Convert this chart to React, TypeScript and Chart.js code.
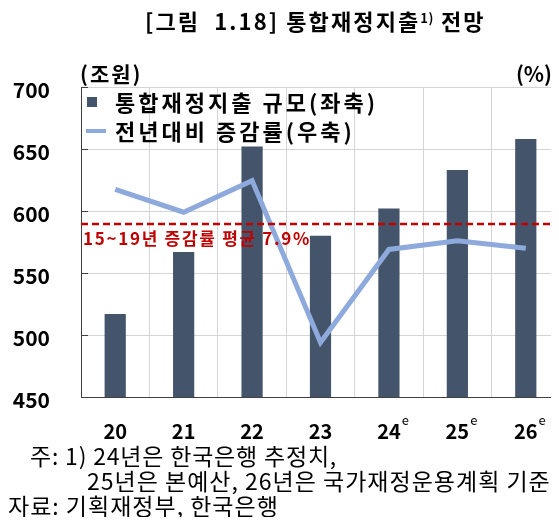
import React, { useEffect, useRef } from "react";
import { Chart, registerables } from "chart.js";

Chart.register(...registerables);

const FONT = "'Noto Sans CJK KR', 'Noto Sans', sans-serif";

// ---- data ----
const categories = ["20", "21", "22", "23", "24", "25", "26"];
const estimated = [false, false, false, false, true, true, true];
const spending = [517, 567, 652, 580, 602, 633, 658]; // 조원 (left axis)
const growth = [13.5, 9.8, 14.9, -11.2, 3.8, 5.2, 4.0]; // % (right axis)
const avgGrowth = 7.9;
const avgLabel = "15~19년 증감률 평균 7.9%";
const leftTicks = { min: 450, max: 700, step: 50 };
const rightTicks = { min: -20, max: 30, step: 10 };
const seriesNames = ["통합재정지출 규모(좌축)", "전년대비 증감률(우축)"];
const leftUnit = "(조원)";
const rightUnit = "(%)";

const BAR_COLOR = "#44546A";
const LINE_COLOR = "#8EA9DB";
const AVG_COLOR = "#C00000";
const GRID_COLOR = "#D4D4D4";
const AXIS_COLOR = "#404040";

const overlayPlugin = {
  id: "overlay",
  afterDatasetsDraw(chart: any) {
    const { ctx, chartArea, scales } = chart;
    const y = scales.y1.getPixelForValue(avgGrowth);
    ctx.save();
    ctx.strokeStyle = AVG_COLOR;
    ctx.lineWidth = 2.5;
    ctx.setLineDash([7, 4]);
    ctx.beginPath();
    ctx.moveTo(chartArea.left, y);
    ctx.lineTo(chartArea.right, y);
    ctx.stroke();
    ctx.setLineDash([]);
    ctx.fillStyle = AVG_COLOR;
    ctx.font = `bold 17px ${FONT}`;
    try {
      (ctx as any).letterSpacing = "1.7px";
    } catch (e) {}
    ctx.textBaseline = "middle";
    ctx.textAlign = "left";
    ctx.fillText(avgLabel, chartArea.left + 2, y + 15);
    try {
      (ctx as any).letterSpacing = "0px";
    } catch (e) {}
    ctx.restore();
  },
  afterDraw(chart: any) {
    const { ctx, chartArea, scales } = chart;
    ctx.save();
    ctx.strokeStyle = AXIS_COLOR;
    ctx.lineWidth = 1;
    scales.y.ticks.forEach((_t: any, i: number) => {
      const py = Math.round(scales.y.getPixelForTick(i)) + 0.5;
      ctx.beginPath();
      ctx.moveTo(chartArea.left, py);
      ctx.lineTo(chartArea.left + 7, py);
      ctx.moveTo(chartArea.right - 7, py);
      ctx.lineTo(chartArea.right, py);
      ctx.stroke();
    });
    ctx.font = `bold 20px ${FONT}`;
    const widths = categories.map((c) => ctx.measureText(c).width);
    ctx.font = `13px ${FONT}`;
    ctx.fillStyle = "#000";
    ctx.textAlign = "left";
    ctx.textBaseline = "middle";
    categories.forEach((_c, i) => {
      if (!estimated[i]) return;
      const x = scales.x.getPixelForValue(i) + widths[i] / 2 + 1;
      ctx.fillText("e", x, chartArea.bottom + 23);
    });
    // unit label (right axis)
    ctx.font = `bold 21px ${FONT}`;
    ctx.textAlign = "right";
    ctx.textBaseline = "middle";
    ctx.fillText(rightUnit, 552, 74);
    ctx.restore();
  },
};

export default function App() {
  const canvasRef = useRef<HTMLCanvasElement | null>(null);

  useEffect(() => {
    if (!canvasRef.current) return;
    const chart = new Chart(canvasRef.current, {
      type: "bar",
      data: {
        labels: categories,
        datasets: [
          {
            type: "line",
            label: seriesNames[1],
            data: growth,
            yAxisID: "y1",
            borderColor: LINE_COLOR,
            backgroundColor: LINE_COLOR,
            borderWidth: 5,
            pointRadius: 0,
            tension: 0,
            order: 1,
          } as any,
          {
            type: "bar",
            label: seriesNames[0],
            data: spending,
            yAxisID: "y",
            backgroundColor: BAR_COLOR,
            barPercentage: 0.31,
            categoryPercentage: 1,
            order: 2,
          } as any,
        ],
      },
      options: {
        animation: false,
        responsive: false,
        devicePixelRatio: 1,
        layout: { padding: { top: 87, left: 0, right: 0, bottom: 0 } },
        plugins: {
          legend: { display: false },
          tooltip: { enabled: false },
          title: { display: false },
        },
        scales: {
          x: {
            offset: true,
            grid: { color: GRID_COLOR, drawTicks: false, offset: true },
            border: { display: true, color: AXIS_COLOR, width: 1 },
            ticks: {
              color: "#000",
              padding: 22,
              font: { family: FONT, size: 20, weight: "bold" },
            },
            afterFit: (s: any) => {
              s.height = 48;
            },
          },
          y: {
            position: "left",
            min: leftTicks.min,
            max: leftTicks.max,
            grid: { color: GRID_COLOR, drawTicks: false },
            border: { display: true, color: AXIS_COLOR, width: 1 },
            ticks: {
              stepSize: leftTicks.step,
              color: "#000",
              padding: 31,
              labelOffset: 3,
              font: { family: FONT, size: 21, weight: "bold" },
            },
            afterFit: (s: any) => {
              s.width = 81;
            },
          },
          y1: {
            position: "right",
            min: rightTicks.min,
            max: rightTicks.max,
            grid: { drawOnChartArea: false, drawTicks: false },
            border: { display: false },
            ticks: { stepSize: rightTicks.step, display: false },
            afterFit: (s: any) => {
              s.width = 2;
            },
          },
        },
      } as any,
      plugins: [overlayPlugin],
    });
    return () => chart.destroy();
  }, []);

  const textStyle: React.CSSProperties = {
    position: "absolute",
    whiteSpace: "nowrap",
    color: "#000",
  };

  return (
    <div
      style={{
        position: "relative",
        width: 559,
        height: 525,
        margin: -8,
        overflow: "hidden",
        background: "#fff",
        fontFamily: FONT,
      }}
    >
      <canvas
        ref={canvasRef}
        width={562}
        height={445}
        style={{ position: "absolute", left: 0, top: 0, display: "block" }}
      />
      <div
        style={{
          ...textStyle,
          left: 145,
          top: 3,
          fontSize: 22,
          fontWeight: 700,
          lineHeight: "30px",
          letterSpacing: 2.1,
        }}
      >
        [그림&nbsp;&nbsp;1.18] 통합재정지출
        <span style={{ fontSize: 13, verticalAlign: 7, fontWeight: 700, letterSpacing: 0.5 }}>1)</span> 전망
      </div>
      <div
        style={{
          ...textStyle,
          left: 80,
          top: 58,
          fontSize: 21,
          fontWeight: 700,
          lineHeight: "30px",
          letterSpacing: 2,
        }}
      >
        {leftUnit}
      </div>
      {/* legend */}
      <div style={{ position: "absolute", left: 87, top: 97, width: 10, height: 10, background: BAR_COLOR }} />
      <div style={{ position: "absolute", left: 86, top: 129, width: 20, height: 4, background: LINE_COLOR }} />
      <div
        style={{
          ...textStyle,
          left: 115,
          top: 86,
          fontSize: 22,
          fontWeight: 700,
          lineHeight: "30px",
          letterSpacing: 3,
        }}
      >
        {seriesNames[0]}
      </div>
      <div
        style={{
          ...textStyle,
          left: 115,
          top: 115,
          fontSize: 22,
          fontWeight: 700,
          lineHeight: "30px",
          letterSpacing: 3,
        }}
      >
        {seriesNames[1]}
      </div>
      {/* footnotes */}
      <div style={{ ...textStyle, left: 30, top: 441, fontSize: 23, lineHeight: "28px", letterSpacing: 0.8 }}>
        주: 1) 24년은 한국은행 추정치,
      </div>
      <div style={{ ...textStyle, left: 87, top: 466, fontSize: 23, lineHeight: "28px", letterSpacing: 1 }}>
        25년은 본예산, 26년은 국가재정운용계획 기준
      </div>
      <div style={{ ...textStyle, left: 8, top: 491, fontSize: 23, lineHeight: "28px", letterSpacing: 1 }}>
        자료: 기획재정부, 한국은행
      </div>
    </div>
  );
}
